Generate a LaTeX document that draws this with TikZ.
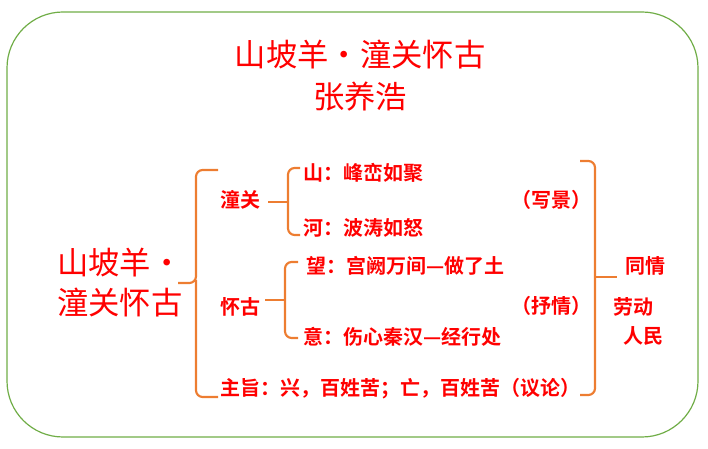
\documentclass[tikz,border=0pt]{standalone}
\usepackage{fontspec}
\setmainfont{Noto Sans CJK SC}[BoldFont={Noto Sans CJK SC Bold}]
\definecolor{br}{RGB}{237,125,49}
\definecolor{gr}{RGB}{112,173,71}
\definecolor{tx}{RGB}{255,0,0}
\begin{document}
\begin{tikzpicture}[x=0.75pt,y=-0.75pt,
  t/.style={text=tx,inner sep=0pt,font=\fontsize{15}{17}\selectfont\bfseries},
  tl/.style={t,anchor=west},
  big/.style={text=tx,inner sep=0pt,font=\fontsize{23.5}{27}\selectfont},
  brc/.style={draw=br,line width=1.6pt,rounded corners=5pt}]
\useasboundingbox (0,0) rectangle (708,449);
\draw[gr,line width=0.9pt,rounded corners=42pt] (7,12) rectangle (698,437);
\node[big] (title) at (360,55) {山坡羊·潼关怀古};
\node[big] (author) at (360,97) {张养浩};
\node[big] (l1) at (120,263) {山坡羊·};
\node[big] (l2) at (120,302) {潼关怀古};
% big brace
\draw[brc] (218,170) -- (196,170) -- (196,283) -- (178,283);
\draw[brc] (196,280) -- (196,397) -- (218,397);
\node[t] (tg) at (240,200) {潼关};
\node[t] (hg) at (240,307) {怀古};
\node[tl] (zz) at (220,389) {主旨：兴，百姓苦；亡，百姓苦（议论）};
% tongguan brace
\draw[brc] (300,168) -- (288,168) -- (288,235) -- (300,235);
\draw[brc] (268,202) -- (288,202);
\node[tl] (s1) at (303,173) {山：峰峦如聚};
\node[tl] (s2) at (303,228) {河：波涛如怒};
% huaigu brace
\draw[brc] (298,262) -- (285,262) -- (285,338) -- (298,338);
\draw[brc] (265,300) -- (285,300);
\node[tl] (w1) at (306,266) {望：宫阙万间—做了土};
\node[tl] (w2) at (303,337) {意：伤心秦汉—经行处};
\node[t] (xj) at (551,200) {（写景）};
\node[t] (sq) at (551,306) {（抒情）};
% right brace
\draw[brc] (580,161) -- (595,161) -- (595,395) -- (580,395);
\draw[brc] (595,277) -- (617,277);
\node[t] (r1) at (645,266) {同情};
\node[t] (r2) at (633,307) {劳动};
\node[t] (r3) at (643,336) {人民};
\end{tikzpicture}
\end{document}
